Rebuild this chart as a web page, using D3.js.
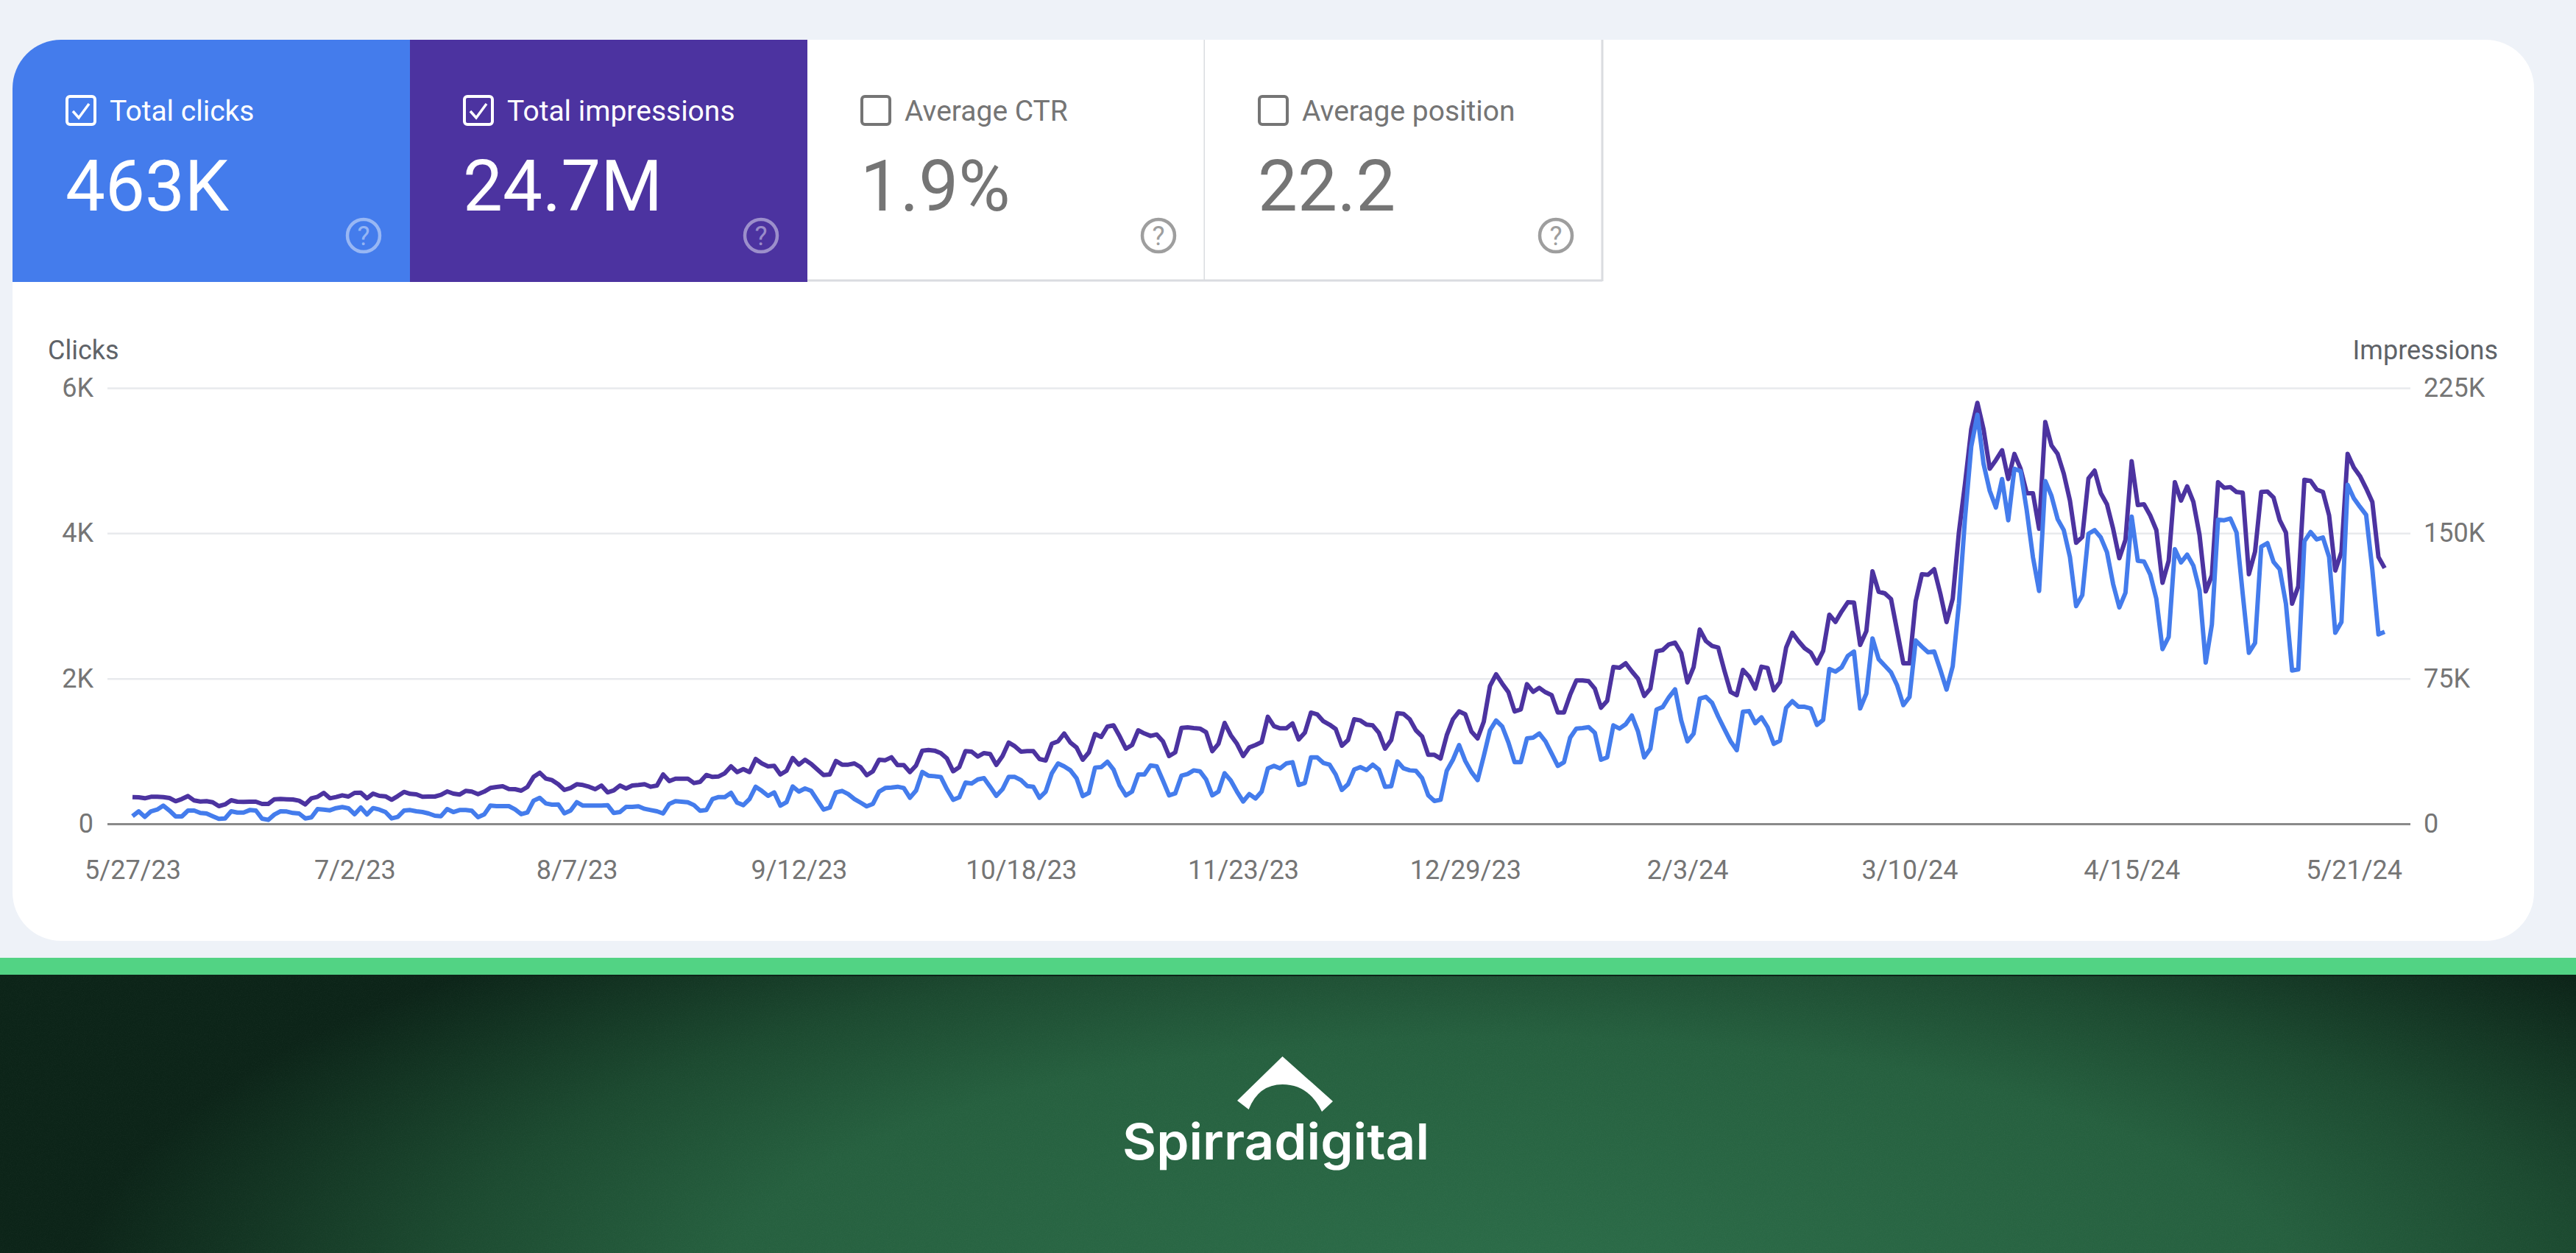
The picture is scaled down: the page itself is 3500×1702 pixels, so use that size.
<!DOCTYPE html>
<html>
<head>
<meta charset="utf-8">
<script src="https://cdn.jsdelivr.net/npm/d3@7"></script>
<style>
  html, body { margin: 0; padding: 0; background: #eef2f8; }
  svg { display: block; }
  text { font-family: Roboto, sans-serif; }
</style>
</head>
<body>
<script>
// Tuiles du haut
var tileLabels = ["Total clicks", "Total impressions", "Average CTR", "Average position"];
var tileValues = ["463K", "24.7M", "1.9%", "22.2"];
var tileChecked = [true, true, false, false];

// Axes
var clickTicks = [0, 2000, 4000, 6000];
var clickTickLabels = ["0", "2K", "4K", "6K"];
var impressionTicks = [0, 75000, 150000, 225000];
var impressionTickLabels = ["0", "75K", "150K", "225K"];
var firstDay = Date.UTC(2023, 4, 27);
var dateTickOffsets = [0, 36, 72, 108, 144, 180, 216, 252, 288, 324, 360];
var dateTickLabels = ["5/27/23", "7/2/23", "8/7/23", "9/12/23", "10/18/23", "11/23/23", "12/29/23", "2/3/24", "3/10/24", "4/15/24", "5/21/24"];

// Valeurs, un point par jour
var clicks = [
  105,172,95,172,196,250,182,101,101,182,
  182,149,142,105,68,74,172,155,155,189,
  182,71,54,128,172,169,149,142,74,88,
  203,196,186,216,230,213,132,223,128,216,
  196,162,74,95,182,189,172,162,142,111,
  105,203,162,189,189,179,91,128,250,243,
  243,243,199,132,155,318,358,280,263,267,
  145,182,297,250,
  250,250,250,257,149,162,233,233,240,206,
  189,172,142,274,311,304,297,257,179,189,
  341,368,368,426,291,257,341,510,453,385,
  432,250,297,513,443,486,453,324,196,223,
  432,453,409,341,291,240,274,443,493,500,
  510,493,358,459,713,662,655,645,476,331,
  365,567,554,611,628,510,385,476,645,645,
  601,520,510,358,443,696,831,790,736,628,
  382,426,774,780,855,747,527,392,443,679,
  679,804,790,595,392,419,662,686,736,723,
  611,392,443,696,595,443,307,409,348,443,
  763,797,763,831,848,534,561,915,915,838,
  814,679,466,544,747,780,740,814,747,510,
  517,858,763,736,730,628,392,314,331,730,
  882,1084,865,713,601,932,1287,1422,1338,1118,
  848,848,1176,1186,1243,1135,966,797,848,1186,
  1311,1317,1331,1253,882,915,1355,1311,1371,1490,
  1270,915,1034,1574,1608,1743,1851,1422,1135,1240,
  1724,1747,1665,1475,1303,1136,1014,1543,1552,1385,
  1466,1330,1100,1145,1597,1688,1611,1611,1588,1362,
  1430,2131,2095,2154,2312,2371,1588,1792,2552,2267,
  2177,2086,1905,1634,1747,2523,2439,2361,2371,2118,
  1848,2169,3030,4212,5192,5631,4956,4584,4354,4746,
  4179,4888,4854,4314,3672,3206,4719,4516,4195,4043,
  3672,2996,3148,3993,4043,3942,3739,3300,2979,3182,
  4229,3621,3611,3435,3098,2405,2574,3780,3598,3706,
  3554,3216,2219,2743,4185,4179,4202,4010,3165,2354,
  2490,3814,3864,3604,3503,3030,2111,2125,3891,4016,
  3915,3942,3672,2631,2777,4668,4483,4364,4253,3503,
  2608,2642
];
var impressions = [
  13810,13680,13180,13940,13940,13810,13300,11660,12800,14320,
  12040,11530,11660,11150,9120,10010,12160,11400,11280,11400,
  11400,10260,10260,12670,12800,12670,12540,11910,10010,13180,
  13940,15960,13180,13810,14700,14060,15960,16090,13180,15580,
  14440,14190,12420,14320,16470,15460,15200,13940,14060,14060,
  14950,16720,15580,15080,16980,16600,15330,16600,18500,19000,
  19390,17990,17860,17100,19000,24200,26350,23310,22550,20400,
  17480,18500,20400,20020,
  19130,17860,19770,16220,17230,19770,18240,19770,20020,20400,
  19130,19770,25470,22050,23310,23310,23310,21030,21670,25210,
  24200,24450,26100,29650,26730,28250,26730,33450,31170,29650,
  29900,25470,27370,33960,30530,33070,30910,28000,25210,25470,
  32440,30530,30530,31170,29270,25090,27110,33070,32820,34340,
  30280,30280,26730,30150,37760,38140,37760,36490,33700,27110,
  29270,37500,37250,34720,36490,35980,30410,34970,41940,40040,
  37250,37500,37500,33450,32690,41300,42570,46630,41940,39400,
  33070,36870,46370,44850,50170,50810,45110,38770,40670,48270,
  46630,45360,46120,42570,34970,36870,49540,49790,49410,49160,
  47260,37500,41300,52070,45740,41300,34970,39400,40670,42190,
  55240,50430,49290,49290,51820,43580,47010,57400,56510,52960,
  51190,48910,40290,43200,53970,53340,51190,50810,47010,38770,
  43200,57140,56760,53970,48270,45110,35600,35600,33700,45740,
  53970,58030,56510,47640,44090,52710,71080,77160,72350,67910,
  58030,59040,72090,68160,70190,67910,66390,57520,57520,66640,
  73990,73990,73610,69810,59930,63480,80960,80580,82860,78680,
  74880,66010,69810,89070,89700,92620,93500,88180,72980,80780,
  100290,94350,91810,90960,79080,68050,66350,79420,76030,69750,
  81120,80440,68900,73140,90960,98600,94350,90620,88410,82810,
  89260,107930,104200,109630,114380,114210,92320,99440,130330,119810,
  118960,116070,99440,82810,82810,114920,128850,128600,131390,118720,
  104150,116180,150390,175730,203610,217290,203610,183330,187770,192840,
  178010,190940,183330,170660,170660,152290,207410,195370,190940,180800,
  166860,145070,148110,178270,182320,170660,164960,152290,137090,146590,
  187140,164580,164960,159260,151660,124420,135820,176370,166860,174210,
  166230,149130,119980,128220,176370,173450,173830,171300,170920,128850,
  140510,171300,171550,168380,156730,150390,113650,122520,177630,177000,
  172570,171300,159260,130750,140260,190940,183970,179530,173200,166230,
  137720,132020
];

var blue = "#447cec", purple = "#4c33a0", grey = "#757575";

var svg = d3.select("body").append("svg")
  .attr("width", 3500)
  .attr("height", 1702);

var defs = svg.append("defs");
defs.append("clipPath").attr("id", "cardClip")
  .append("rect")
  .attr("x", 17).attr("y", 54).attr("width", 3426).attr("height", 1224).attr("rx", 66);

var glow = defs.append("radialGradient").attr("id", "bandGlow")
  .attr("gradientUnits", "userSpaceOnUse")
  .attr("cx", 0).attr("cy", 0).attr("r", 1)
  .attr("gradientTransform", "translate(2050,1760) scale(1950,640)");
glow.append("stop").attr("offset", 0).attr("stop-color", "#2c6d49");
glow.append("stop").attr("offset", 0.55).attr("stop-color", "#26603f");
glow.append("stop").attr("offset", 0.75).attr("stop-color", "#1c4a30");
glow.append("stop").attr("offset", 1).attr("stop-color", "#0c2418");

var grain = defs.append("filter").attr("id", "grain")
  .attr("x", 0).attr("y", 0).attr("width", 1).attr("height", 1);
grain.append("feTurbulence").attr("type", "fractalNoise").attr("baseFrequency", 0.9).attr("numOctaves", 2);
grain.append("feColorMatrix").attr("values", "0 0 0 0 1  0 0 0 0 1  0 0 0 0 1  0.5 0 0 0 -0.2");

// Fond
svg.append("rect").attr("width", 3500).attr("height", 1702).attr("fill", "#eef2f8");
svg.append("rect").attr("x", 17).attr("y", 54).attr("width", 3426).attr("height", 1224).attr("rx", 66).attr("fill", "#fff");

// Bandeau vert et logo
svg.append("rect").attr("y", 1301).attr("width", 3500).attr("height", 23).attr("fill", "#52d384");
svg.append("rect").attr("y", 1324).attr("width", 3500).attr("height", 378).attr("fill", "url(#bandGlow)");
svg.append("rect").attr("y", 1324).attr("width", 3500).attr("height", 378).attr("filter", "url(#grain)").attr("opacity", 0.12);
svg.append("rect").attr("y", 1324).attr("width", 3500).attr("height", 2).attr("fill", "#0c2418");
svg.append("path")
  .attr("d", "M1742.5 1435 L1811 1496 L1796 1510 Q1778 1473 1742.5 1473 Q1710 1473 1696.6 1507 L1681 1495 Z")
  .attr("fill", "#fff");
svg.append("text")
  .attr("x", 1525).attr("y", 1575)
  .attr("textLength", 417).attr("lengthAdjust", "spacingAndGlyphs")
  .style("font-family", "Inter, sans-serif").style("font-size", "68px").style("font-weight", 600)
  .attr("fill", "#fff")
  .text("Spirradigital");

// Tuiles
var tileX = [17, 557, 1097, 1637];
var tileWidth = 540;
var tiles = svg.append("g").attr("clip-path", "url(#cardClip)")
  .selectAll("g").data(tileLabels).join("g")
  .attr("transform", function(d, i) { return "translate(" + tileX[i] + ",54)"; });

tiles.append("rect")
  .attr("width", tileWidth).attr("height", 329)
  .attr("fill", function(d, i) { return i === 0 ? blue : i === 1 ? purple : "#fff"; });

// Bordures des tuiles non cochées
tiles.filter(function(d, i) { return !tileChecked[i]; }).each(function() {
  var g = d3.select(this);
  g.append("line").attr("x1", 0).attr("x2", tileWidth).attr("y1", 327).attr("y2", 327)
    .attr("stroke", "#dadce0").attr("stroke-width", 3);
  g.append("line").attr("x1", tileWidth).attr("x2", tileWidth).attr("y1", 0).attr("y2", 328)
    .attr("stroke", "#dadce0").attr("stroke-width", 3);
});

var tileColor = function(d, i) { return tileChecked[i] ? "#fff" : grey; };

tiles.append("rect")
  .attr("x", 74).attr("y", 77).attr("width", 38).attr("height", 38).attr("rx", 4)
  .attr("fill", "none").attr("stroke-width", 4)
  .attr("stroke", tileColor);

tiles.filter(function(d, i) { return tileChecked[i]; }).append("path")
  .attr("d", "M82 97 L90 106 L104 87")
  .attr("fill", "none").attr("stroke", "#fff").attr("stroke-width", 3.5);

tiles.append("text")
  .attr("x", 132).attr("y", 110)
  .style("font-size", "39px")
  .attr("fill", tileColor)
  .text(function(d) { return d; });

tiles.append("text")
  .attr("x", 72).attr("y", 232)
  .style("font-size", "96px")
  .attr("fill", tileColor)
  .text(function(d, i) { return tileValues[i]; });

// Icône d'aide
tiles.append("circle")
  .attr("cx", 477).attr("cy", 266).attr("r", 22)
  .attr("fill", "none").attr("stroke-width", 4.5)
  .attr("stroke", function(d, i) { return tileChecked[i] ? "rgba(255,255,255,0.45)" : "#9e9e9e"; });
tiles.append("text")
  .attr("x", 477).attr("y", 279)
  .attr("text-anchor", "middle")
  .style("font-size", "36px")
  .attr("fill", function(d, i) { return tileChecked[i] ? "rgba(255,255,255,0.45)" : "#9e9e9e"; })
  .text("?");

// Echelles
var days = clicks.map(function(d, i) { return new Date(firstDay + i * 86400000); });
var x = d3.scaleUtc()
  .domain([days[0], days[days.length - 1]])
  .range([180, 3240]);
var yClicks = d3.scaleLinear().domain([0, 6000]).range([1119, 527]);
var yImpressions = d3.scaleLinear().domain([0, 225000]).range([1119, 527]);

// Axe gauche et grille
var left = svg.append("g")
  .attr("transform", "translate(146,0)")
  .call(d3.axisLeft(yClicks)
    .tickValues(clickTicks)
    .tickSize(-3129)
    .tickPadding(19)
    .tickFormat(function(d, i) { return clickTickLabels[i]; }));
left.select(".domain").remove();
left.selectAll(".tick line")
  .attr("stroke", function(d) { return d === 0 ? "#8a8a8a" : "#e8eaed"; })
  .attr("stroke-width", function(d) { return d === 0 ? 3 : 2.5; });

// Axe droit
var right = svg.append("g")
  .attr("transform", "translate(3275,0)")
  .call(d3.axisRight(yImpressions)
    .tickValues(impressionTicks)
    .tickSize(0)
    .tickPadding(18)
    .tickFormat(function(d, i) { return impressionTickLabels[i]; }));
right.select(".domain").remove();

// Axe des dates
var bottom = svg.append("g")
  .attr("transform", "translate(0,1119)")
  .call(d3.axisBottom(x)
    .tickValues(dateTickOffsets.map(function(d) { return days[d]; }))
    .tickSize(0)
    .tickPadding(49)
    .tickFormat(function(d, i) { return dateTickLabels[i]; }));
bottom.select(".domain").remove();

svg.selectAll(".tick text")
  .style("font-family", "Roboto, sans-serif")
  .style("font-size", "36px")
  .attr("fill", grey);

svg.append("text").attr("x", 65).attr("y", 488)
  .style("font-size", "36px").attr("fill", "#5f6368").text("Clicks");
svg.append("text").attr("x", 3394).attr("y", 488).attr("text-anchor", "end")
  .style("font-size", "36px").attr("fill", "#5f6368").text("Impressions");

// Courbes, le bleu passe au dessus
svg.append("path")
  .datum(impressions)
  .attr("fill", "none")
  .attr("stroke", purple)
  .attr("stroke-width", 6)
  .attr("stroke-linejoin", "round")
  .attr("d", d3.line()
    .x(function(d, i) { return x(days[i]); })
    .y(function(d) { return yImpressions(d); }));

svg.append("path")
  .datum(clicks)
  .attr("fill", "none")
  .attr("stroke", blue)
  .attr("stroke-width", 6)
  .attr("stroke-linejoin", "round")
  .attr("d", d3.line()
    .x(function(d, i) { return x(days[i]); })
    .y(function(d) { return yClicks(d); }));
</script>
</body>
</html>
